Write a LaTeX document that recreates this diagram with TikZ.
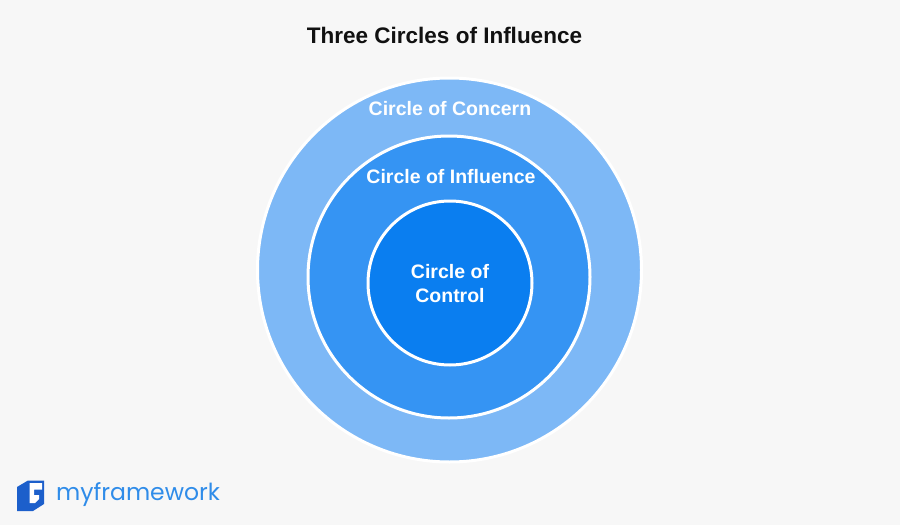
\documentclass[tikz,border=0pt]{standalone}
\usepackage{fontspec}
\setmainfont{Liberation Sans}
\newfontfamily\logofont{Poppins}
\definecolor{bgc}{HTML}{F7F7F7}
\definecolor{outerc}{HTML}{7DB8F6}
\definecolor{midc}{HTML}{3594F3}
\definecolor{innerc}{HTML}{0A7EF0}
\definecolor{titlec}{HTML}{111111}
\definecolor{logoc}{HTML}{2F8CE9}
\definecolor{iconc}{HTML}{1C5FCB}
\tikzset{
  ring/.style={circle, draw=white, line width=3pt, inner sep=0pt, outer sep=0pt},
  lbl/.style={text=white, font=\bfseries\fontsize{19.5}{23.5}\selectfont, align=center, inner sep=0pt},
}
\begin{document}
\begin{tikzpicture}[x=1pt,y=-1pt]
\useasboundingbox (0,0) rectangle (900,525);
\fill[bgc] (0,0) rectangle (900,525);
\node[font=\bfseries\fontsize{22.5}{27}\selectfont, text=titlec, inner sep=0pt] (title) at (444.5,35) {Three Circles of Influence};
\node[ring, fill=outerc, minimum size=384pt] (concern) at (449.5,270) {};
\node[ring, fill=midc, minimum size=282pt] (influence) at (449,277) {};
\node[ring, fill=innerc, minimum size=164pt] (control) at (450,283) {};
\node[lbl] (lconcern) at (450,109) {Circle of Concern};
\node[lbl] (linfluence) at (451,177) {Circle of Influence};
\node[lbl] (lcontrol) at (450,283.5) {Circle of\\Control};
% logo icon
\fill[iconc] (17,487) -- (28,480.5) -- (44,480.5) -- (44,504) -- (33,511) -- (17,511) -- cycle;
\fill[white] (29.5,483) -- (42,483) -- (42,489.5) -- (34,489.5) -- (34,495) -- (39,495) -- (39,499) -- (35,503) -- (29.5,503) -- cycle;
\node[font=\logofont\fontsize{23.5}{28}\selectfont, text=logoc, anchor=west, inner sep=0pt] (logo) at (56,495) {myframework};
\end{tikzpicture}
\end{document}
